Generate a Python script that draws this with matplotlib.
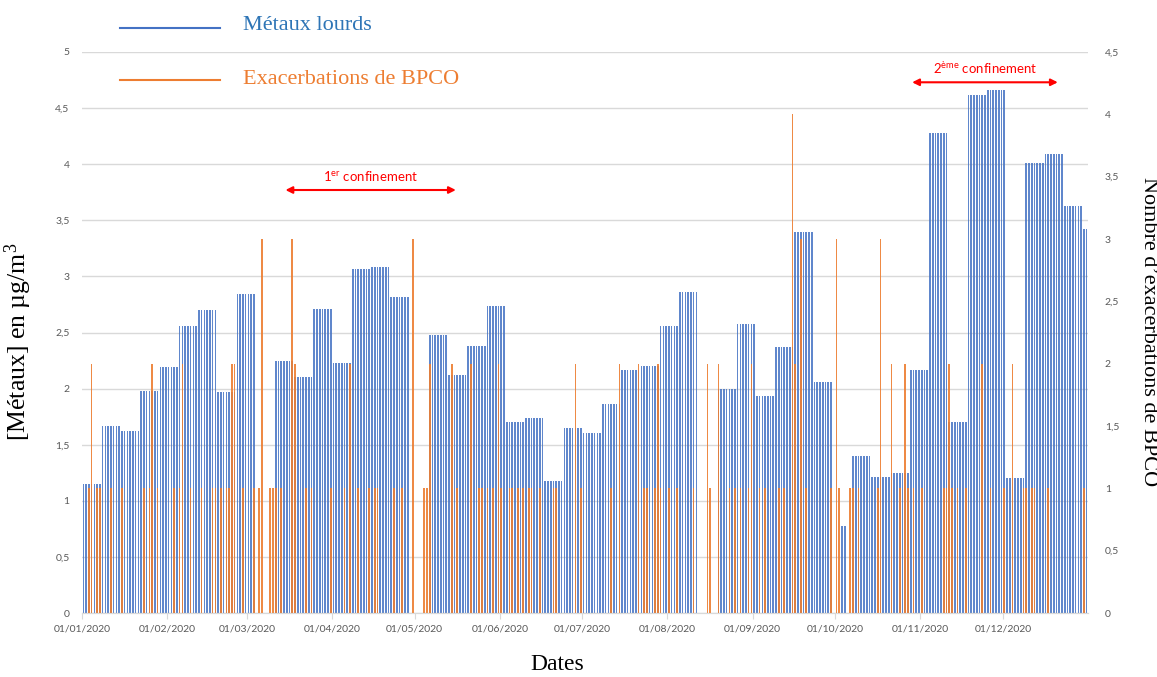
import numpy as np
import matplotlib
matplotlib.use("Agg")
import matplotlib.pyplot as plt
from matplotlib.lines import Line2D
from matplotlib.ticker import FuncFormatter

# moyenne hebdomadaire des métaux lourds (µg/m3), semaine 0 = 01/01/2020, None = pas de mesure
metaux_hebdo = [1.15, 1.67, 1.62, 1.98, 2.19, 2.56, 2.70, 1.97, 2.84, None,
                2.25, 2.10, 2.71, 2.23, 3.07, 3.08, 2.82, None, 2.48, 2.12,
                2.38, 2.74, 1.70, 1.74, 1.18, 1.65, 1.60, 1.86, 2.17, 2.20,
                2.56, 2.86, None, 2.00, 2.58, 1.93, 2.37, 3.40, 2.06, 0.78,
                1.40, 1.21, 1.25, 2.17, 4.28, 1.70, 4.62, 4.66, 1.20, 4.01,
                4.09, 3.63, 3.42]
# jours isolés sans mesure (jour de l'année, 0 = 01/01/2020)
jours_sans_mesure = [273, 274, 275, 278, 279]

# exacerbations de BPCO : jours (0 = 01/01/2020) par nombre de cas
exac_1 = [2, 5, 6, 10, 14, 22, 24, 27, 33, 35, 39, 43, 47, 48, 50, 52, 53, 58,
          62, 64, 68, 69, 70, 72, 81, 83, 90, 95, 100, 104, 106, 107, 113, 116,
          124, 125, 136, 144, 145, 147, 149, 152, 155, 156, 158, 160, 162, 163,
          166, 171, 172, 181, 192, 204, 205, 208, 210, 213, 216, 222, 228, 235,
          237, 239, 242, 246, 248, 253, 255, 263, 272, 275, 279, 280, 282, 289,
          297, 300, 302, 305, 313, 314, 316, 318, 321, 330, 335, 342, 343, 345,
          346, 351, 364]
exac_2 = [3, 25, 36, 54, 55, 77, 97, 126, 134, 141, 151, 179, 195, 202, 209,
          227, 231, 243, 259, 294, 299, 315, 327, 338]
exac_3 = [65, 76, 120, 261, 274, 290]
exac_4 = [258]

mois_debut = [0, 31, 60, 91, 121, 152, 182, 213, 244, 274, 305, 335]
mois_labels = ["01/01/2020", "01/02/2020", "01/03/2020", "01/04/2020",
               "01/05/2020", "01/06/2020", "01/07/2020", "01/08/2020",
               "01/09/2020", "01/10/2020", "01/11/2020", "01/12/2020"]

confinements = [("1$^{er}$ confinement", 74, 136, 3.77),
                ("2$^{ème}$ confinement", 302, 355, 4.73)]

n_jours = 366
metaux = np.repeat(np.array(metaux_hebdo, dtype=float), 7)[:n_jours]
metaux[jours_sans_mesure] = np.nan
exac = np.zeros(n_jours)
for nb, jours in [(1, exac_1), (2, exac_2), (3, exac_3), (4, exac_4)]:
    exac[jours] = nb
x = np.arange(n_jours) + 0.5

plt.rcParams['font.family'] = ['Lato', 'DejaVu Sans']
plt.rcParams['mathtext.default'] = 'regular'

blue = '#4472C4'
orange = '#ED7D31'
grey_txt = '#595959'
grid_col = '#D9D9D9'
serif = 'Liberation Serif'

fig = plt.figure(figsize=(11.57, 6.77), dpi=100)
ax = fig.add_axes([0.0709, 0.0945, 0.8695, 0.8287])
ax2 = ax.twinx()

# barres bleues un peu plus fines et claires pour l'effet rayé de l'original
ax.bar(x, metaux, width=0.6, color=blue, alpha=0.85, linewidth=0)
mask = exac > 0
ax2.bar(x[mask], exac[mask], width=0.6, color=orange, alpha=0.9, linewidth=0)

comma = FuncFormatter(lambda v, p: f"{v:g}".replace('.', ','))

ax.set_xlim(0, n_jours)
ax.set_ylim(0, 5)
ax.set_yticks(np.arange(0, 5.01, 0.5))
ax.yaxis.set_major_formatter(comma)
ax.yaxis.grid(True, color=grid_col, linewidth=1)
ax.set_axisbelow(True)
ax.set_xticks(mois_debut)
ax.set_xticklabels(mois_labels)
ax.tick_params(axis='x', length=4, color=grid_col, labelsize=7.5,
               labelcolor=grey_txt, pad=4)
ax.tick_params(axis='y', length=0, labelsize=7.5, labelcolor=grey_txt, pad=9)

ax2.set_ylim(0, 4.5)
ax2.set_yticks(np.arange(0, 4.51, 0.5))
ax2.yaxis.set_major_formatter(comma)
ax2.tick_params(axis='y', length=0, labelsize=7.5, labelcolor=grey_txt, pad=12)

for a in (ax, ax2):
    for s in ['top', 'left', 'right']:
        a.spines[s].set_visible(False)
    a.spines['bottom'].set_color(grid_col)

# confinements
for label, d0, d1, y in confinements:
    ax.annotate('', xy=(d0, y), xytext=(d1, y),
                arrowprops=dict(arrowstyle='<|-|>', color='red', lw=1.5,
                                mutation_scale=10, shrinkA=0, shrinkB=0))
    ax.text((d0 + d1) / 2, y + 0.06, label, color='red', fontsize=9.5,
            ha='center', va='bottom')

# legende
fig.add_artist(Line2D([120 / 1157, 220 / 1157], [1 - 28 / 677, 1 - 28 / 677],
                      color=blue, lw=1.5))
fig.add_artist(Line2D([120 / 1157, 220 / 1157], [1 - 80 / 677, 1 - 80 / 677],
                      color=orange, lw=1.5))
fig.text(243 / 1157, 1 - 25 / 677, "Métaux lourds", color='#2E75B6',
         fontsize=16, family=serif, va='center')
fig.text(243 / 1157, 1 - 79 / 677, "Exacerbations de BPCO", color=orange,
         fontsize=16, family=serif, va='center')

# titres des axes
fig.text(18 / 1157, 1 - 342 / 677, "[Métaux] en µg/m$^3$", rotation=90,
         fontsize=18.5, family=serif, ha='center', va='center')
fig.text(1148 / 1157, 1 - 332 / 677, "Nombre d’exacerbations de BPCO",
         rotation=-90, fontsize=16, family=serif, ha='center', va='center')
fig.text(557 / 1157, 1 - 665 / 677, "Dates", fontsize=17, family=serif,
         ha='center', va='center')

fig.savefig('out.png', dpi=100)
